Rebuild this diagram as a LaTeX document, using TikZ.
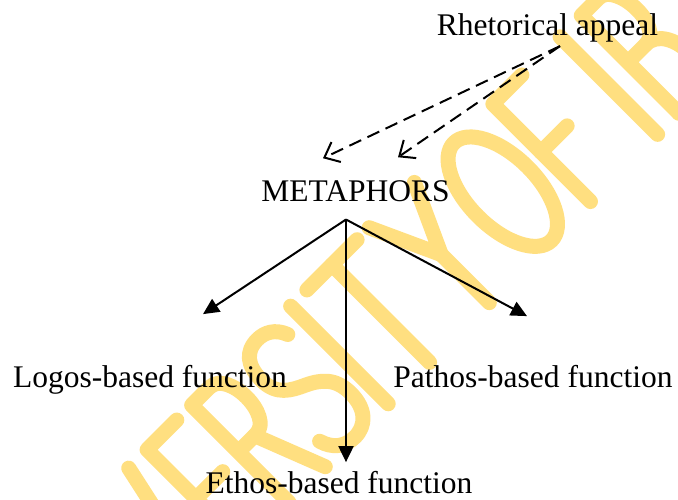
\documentclass[tikz,border=0pt]{standalone}
\usepackage{fontspec}
\setmainfont{Liberation Serif}
\usetikzlibrary{arrows.meta,calc}
\definecolor{wmyellow}{RGB}{255,223,128}
\tikzset{
  txt/.style={font=\fontsize{31.5}{36}\selectfont, inner sep=0pt, anchor=base},
  wm/.style={draw=wmyellow, line width=15pt, line cap=round, line join=round},
  solidarrow/.style={line width=2pt, -{Triangle[length=16pt,width=15pt]}},
  dasharrow/.style={line width=2pt, dash pattern=on 13pt off 7pt,
    -{Straight Barb[length=13pt,width=22pt,line width=2pt]}}
}
\begin{document}
\begin{tikzpicture}[x=1pt,y=-1pt]
\useasboundingbox (0,0) rectangle (678,500);
\fill[white] (0,0) rectangle (678,500);

% watermark lettering, set along a 45-degree baseline
\begin{scope}
\clip (0,0) rectangle (678,500);
\begin{scope}[shift={(396,396)}, y=1pt, rotate=45]
  % V
  \draw[wm] (-300,138) -- (-270,0) -- (-240,138);
  % E
  \draw[wm] (-172,138) -- (-214,138) -- (-214,0) -- (-172,0);
  \draw[wm] (-214,69) -- (-176,69);
  % R
  \draw[wm] (-151,0) -- (-151,138) -- (-126,138)
    .. controls (-100,138) and (-100,72) .. (-126,72) -- (-151,72);
  \draw[wm] (-128,72) -- (-100,0);
  % S
  \draw[wm] (-33,120) .. controls (-38,133) and (-48,138) .. (-58,138)
    .. controls (-75,138) and (-84,127) .. (-84,106)
    .. controls (-84,85) and (-70,78) .. (-57,72)
    .. controls (-42,65) and (-30,56) .. (-30,34)
    .. controls (-30,12) and (-42,0) .. (-58,0)
    .. controls (-72,0) and (-82,8) .. (-86,22);
  % I
  \draw[wm] (-11,0) -- (-11,138);
  % T
  \draw[wm] (12,138) -- (83,138);
  \draw[wm] (47.5,138) -- (47.5,0);
  % Y
  \draw[wm] (100,138) -- (132,68) -- (164,138);
  \draw[wm] (132,68) -- (132,0);
  % O
  \draw[wm] (220,69) ellipse [x radius=35pt, y radius=69pt];
  % F
  \draw[wm] (275,0) -- (275,138) -- (316,138);
  \draw[wm] (275,70) -- (312,70);
  % I
  \draw[wm] (370,0) -- (370,138);
  % B
  \draw[wm] (400,0) -- (400,138) -- (425,138)
    .. controls (448,138) and (452,72) .. (425,72) -- (400,72);
  \draw[wm] (425,72) .. controls (458,72) and (458,0) .. (428,0) -- (400,0);
\end{scope}
\end{scope}

% labels
\node[txt] (ra)  at (547.5,36) {Rhetorical appeal};
\node[txt] (met) at (355.5,202) {METAPHORS};
\node[txt] (lg)  at (150,387) {Logos-based function};
\node[txt] (pt)  at (533,387) {Pathos-based function};
\node[txt] (et)  at (339,493) {Ethos-based function};

% dashed links from the appeal to the metaphors
\draw[dasharrow] ($(ra.south)+(12.5,3.2)$) -- ($(met.north)+(-32.5,-22.7)$);
\draw[dasharrow] ($(ra.south)+(12.5,3.2)$) -- ($(met.north)+(42.5,-23.7)$);

% solid links to the three functions
\draw[solidarrow] ($(met.south)+(-9.5,17)$) -- ($(lg.north)+(53,-50.5)$);
\draw[solidarrow] ($(met.south)+(-9.5,17)$) -- ($(pt.north)+(-6,-48.5)$);
\draw[solidarrow] ($(met.south)+(-9.5,17)$) -- ($(et.north)+(7,-8.5)$);
\end{tikzpicture}
\end{document}
